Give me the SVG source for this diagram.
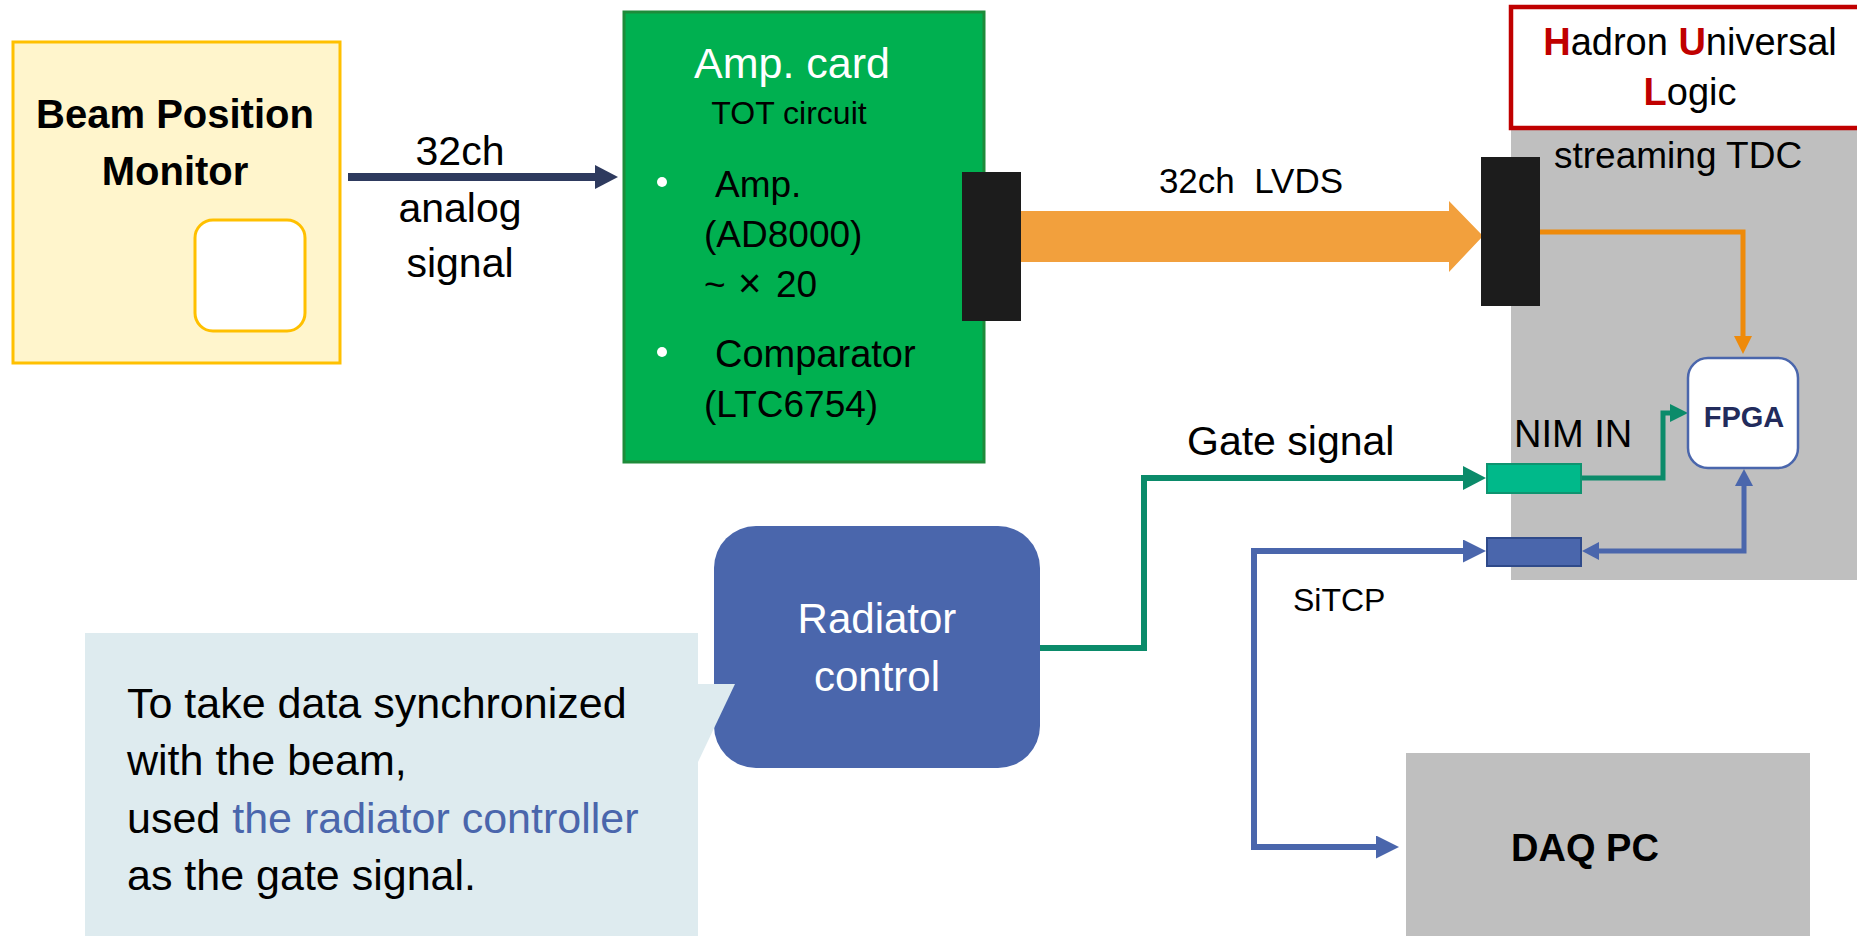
<svg xmlns="http://www.w3.org/2000/svg" width="1857" height="936" viewBox="0 0 1857 936">
<style>
text{font-family:"Liberation Sans",Arial,sans-serif;fill:#000}
.b{font-weight:bold}
.w{fill:#fff}
.c{text-anchor:middle}
.red{fill:#C00000;font-weight:bold}
.conn{fill:none;stroke-linejoin:miter}
</style>
<defs>
<marker id="mNavy" markerUnits="userSpaceOnUse" viewBox="0 0 23 24" refX="0" refY="12" markerWidth="23" markerHeight="24" orient="auto"><path d="M0,0 L23,12 L0,24 z" fill="#2E3A5E"/></marker>
<marker id="mGreen" markerUnits="userSpaceOnUse" viewBox="0 0 23 24" refX="0" refY="12" markerWidth="23" markerHeight="24" orient="auto"><path d="M0,0 L23,12 L0,24 z" fill="#0B8B6A"/></marker>
<marker id="mGreenS" markerUnits="userSpaceOnUse" viewBox="0 0 18 18" refX="0" refY="9" markerWidth="18" markerHeight="18" orient="auto"><path d="M0,0 L18,9 L0,18 z" fill="#0B8B6A"/></marker>
<marker id="mBlue" markerUnits="userSpaceOnUse" viewBox="0 0 23 23" refX="0" refY="11.5" markerWidth="23" markerHeight="23" orient="auto-start-reverse"><path d="M0,0 L23,11.5 L0,23 z" fill="#4A66AC"/></marker>
<marker id="mBlueS" markerUnits="userSpaceOnUse" viewBox="0 0 17 18" refX="0" refY="9" markerWidth="17" markerHeight="18" orient="auto-start-reverse"><path d="M0,0 L17,9 L0,18 z" fill="#4A66AC"/></marker>
<marker id="mOrangeS" markerUnits="userSpaceOnUse" viewBox="0 0 18 18" refX="0" refY="9" markerWidth="18" markerHeight="18" orient="auto"><path d="M0,0 L18,9 L0,18 z" fill="#EE8A0A"/></marker>
</defs>
<rect width="1857" height="936" fill="#fff"/>

<g id="bpm">
<rect x="13" y="42" width="327" height="321" fill="#FFF5CC" stroke="#FFC000" stroke-width="3"/>
<rect x="195" y="220" width="110" height="111" rx="18" fill="#fff" stroke="#FFC000" stroke-width="3"/>
<text class="b c" x="175" y="128" font-size="40">Beam Position</text>
<text class="b c" x="175" y="185" font-size="40">Monitor</text>
</g>

<g id="hul">
<rect x="1511" y="128" width="360" height="452" fill="#BFBFBF"/>
<rect x="1511" y="7" width="360" height="121" fill="#fff" stroke="#C00000" stroke-width="4.5"/>
<text class="c" x="1690" y="55" font-size="38"><tspan class="red">H</tspan>adron <tspan class="red">U</tspan>niversal</text>
<text class="c" x="1690" y="105" font-size="38"><tspan class="red">L</tspan>ogic</text>
<text x="1554" y="168" font-size="37">streaming TDC</text>
<text x="1514" y="447" font-size="38">NIM IN</text>
</g>

<g id="daq">
<rect x="1406" y="753" width="404" height="190" fill="#BFBFBF"/>
<text class="b c" x="1585" y="861" font-size="38">DAQ PC</text>
</g>

<g id="radiator">
<rect x="714" y="526" width="326" height="242" rx="42" fill="#4A66AC"/>
<text class="w c" x="877" y="633" font-size="42">Radiator</text>
<text class="w c" x="877" y="691" font-size="42">control</text>
</g>

<g id="note">
<rect x="85" y="633" width="613" height="310" fill="#DEEBEF"/>
<polygon points="697,684 735,684 698,762 697,762" fill="#DEEBEF"/>
<text x="127" y="718" font-size="43">To take data synchronized</text>
<text x="127" y="775" font-size="43">with the beam,</text>
<text x="127" y="833" font-size="43">used <tspan fill="#4A66AC">the radiator controller</tspan></text>
<text x="127" y="890" font-size="43">as the gate signal.</text>
</g>

<g id="connectors">
<path class="conn" d="M348,177 H595" stroke="#2E3A5E" stroke-width="8" marker-end="url(#mNavy)"/>
<polygon points="1021,211 1449,211 1449,201 1483,236 1449,272 1449,262 1021,262" fill="#F2A03D"/>
<path class="conn" d="M1540,232 H1743 V336" stroke="#EE8A0A" stroke-width="5" marker-end="url(#mOrangeS)"/>
<path class="conn" d="M1040,648 H1144 V478 H1463" stroke="#0B8B6A" stroke-width="6" marker-end="url(#mGreen)"/>
<path class="conn" d="M1582,478 H1663 V413 H1670" stroke="#0B8B6A" stroke-width="5" marker-end="url(#mGreenS)"/>
<path class="conn" d="M1463,551 H1254 V847 H1376" stroke="#4A66AC" stroke-width="6" marker-start="url(#mBlue)" marker-end="url(#mBlue)"/>
<path class="conn" d="M1599,551 H1744 V486" stroke="#4A66AC" stroke-width="5" marker-start="url(#mBlueS)" marker-end="url(#mBlueS)"/>
<text x="460" y="165" class="c" font-size="41">32ch</text>
<text x="460" y="222" class="c" font-size="41">analog</text>
<text x="460" y="277" class="c" font-size="41">signal</text>
<text x="1251" y="193" class="c" font-size="35">32ch&#160; LVDS</text>
<text x="1187" y="455" font-size="41">Gate signal</text>
<text x="1293" y="611" font-size="32">SiTCP</text>
</g>

<g id="ampcard">
<rect x="624" y="12" width="360" height="450" fill="#00B050" stroke="#1E8B3A" stroke-width="3"/>
<text class="w c" x="792" y="78" font-size="43">Amp. card</text>
<text class="c" x="789" y="124" font-size="32">TOT circuit</text>
<circle cx="662" cy="182" r="5" fill="#fff"/>
<text x="715" y="197" font-size="37">Amp.</text>
<text x="704" y="247" font-size="37">(AD8000)</text>
<text x="704" y="297" font-size="37"><tspan x="704">~</tspan><tspan x="738" font-size="40">×</tspan><tspan x="776">20</tspan></text>
<circle cx="662" cy="352" r="5" fill="#fff"/>
<text x="715" y="367" font-size="38">Comparator</text>
<text x="704" y="417" font-size="37">(LTC6754)</text>
<rect x="962" y="172" width="59" height="149" fill="#1C1C1C"/>
</g>

<g id="nim">
<rect x="1487" y="464" width="94" height="29" fill="#00B98A" stroke="#0E9470" stroke-width="2"/>
</g>
<g id="sitcp">
<rect x="1487" y="538" width="94" height="28" fill="#4A66AC" stroke="#2F4A8A" stroke-width="2"/>
</g>
<g id="lvds-in">
<rect x="1481" y="157" width="59" height="149" fill="#1C1C1C"/>
</g>
<g id="fpga">
<rect x="1688" y="358" width="110" height="110" rx="20" fill="#fff" stroke="#4A66AC" stroke-width="2.5"/>
<text class="b c" x="1744" y="427" font-size="29" style="fill:#222B5C">FPGA</text>
</g>
</svg>
